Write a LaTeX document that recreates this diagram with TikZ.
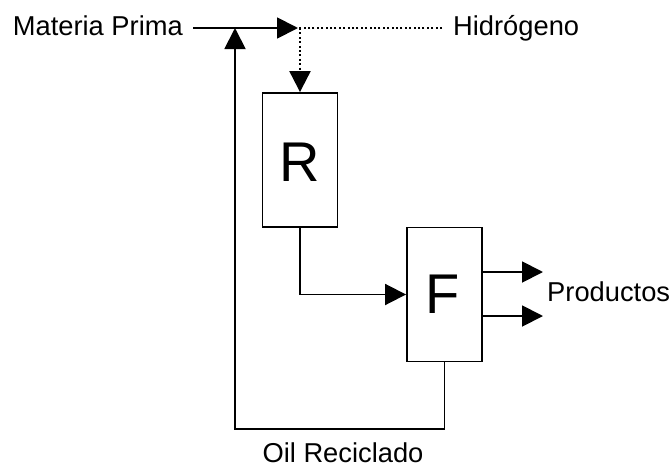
\documentclass[tikz,border=0pt]{standalone}
\usepackage{fontspec}
\setmainfont{Liberation Sans}
\usetikzlibrary{arrows.meta}
\begin{document}
\begin{tikzpicture}[x=1pt,y=-1pt,
  flow/.style={line width=1.9pt,black},
  tip/.style={-{Triangle[length=21pt,width=21pt]}},
  dotline/.style={line width=2.2pt,dash pattern=on 2pt off 2.4pt},
  unit/.style={draw,line width=1.9pt,minimum width=75pt,minimum height=134pt,inner sep=0pt,font=\fontsize{56}{60}\selectfont},
  lbl/.style={inner sep=0pt,font=\fontsize{27.3}{32}\selectfont}]
\useasboundingbox (0,0) rectangle (672,469);
% units
\node[unit] (R) at (300,160) {};
\node[unit] (F) at (444.5,294.5) {};
\node[lbl,anchor=base,font=\fontsize{56}{60}\selectfont] (Rl) at (300,181.5) {R};
\node[lbl,anchor=base,font=\fontsize{56}{60}\selectfont] (Fl) at (443,313) {F};
% labels
\node[lbl,anchor=base east] (mp) at (183,35) {Materia Prima};
\node[lbl,anchor=base west] (h2) at (453,35) {Hidrógeno};
\node[lbl,anchor=base west] (pr) at (547,301) {Productos};
\node[lbl,anchor=base] (oil) at (343,462.5) {Oil Reciclado};
% coordinates
\coordinate (ms) at (193,28);
\coordinate (mj) at (298,28);
\coordinate (hd) at (442,28);
\coordinate (rb) at (235,429);
\coordinate (rt) at (235,28);
\coordinate (p1) at (543,272);
\coordinate (p2) at (543,316);
% connectors
\draw[flow,tip] (ms) -- (mj);
\draw[flow,dotline] (hd) -- (mj);
\draw[flow,dotline,tip] (R.north |- mj) -- (R.north);
\draw[flow,tip] (R.south) |- (F.west);
\draw[flow,tip] (F.south) |- (rb) -- (rt);
\draw[flow,tip] (F.east |- p1) -- (p1);
\draw[flow,tip] (F.east |- p2) -- (p2);
\end{tikzpicture}
\end{document}
